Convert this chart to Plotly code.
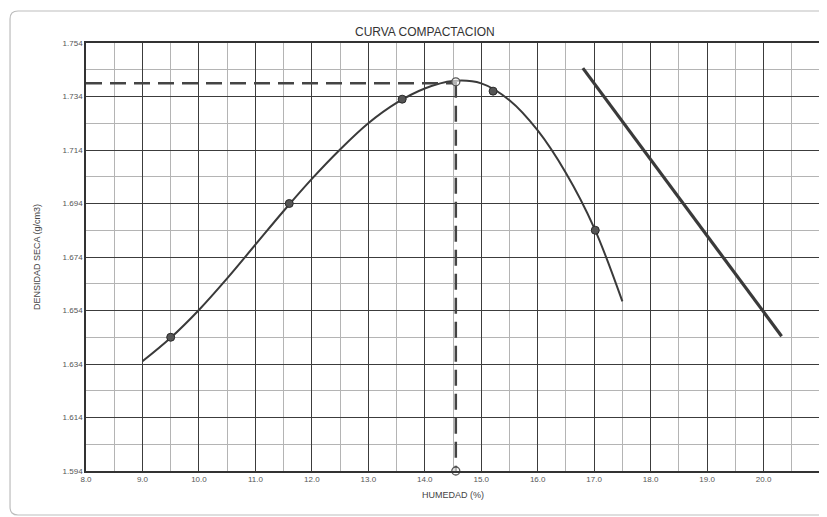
import plotly.graph_objects as go

# Tick labels
x_ticks = [8.0, 9.0, 10.0, 11.0, 12.0, 13.0, 14.0, 15.0, 16.0, 17.0, 18.0, 19.0, 20.0, 21.0]
x_ticktext = ["8.0", "9.0", "10.0", "11.0", "12.0", "13.0", "14.0", "15.0", "16.0", "17.0", "18.0", "19.0", "20.0", "21.0"]
y_ticks = [1.594, 1.614, 1.634, 1.654, 1.674, 1.694, 1.714, 1.734, 1.754]
y_ticktext = ["1.594", "1.614", "1.634", "1.654", "1.674", "1.694", "1.714", "1.734", "1.754"]

# Measured points
humedad = [9.50, 11.60, 13.60, 15.21, 17.02]
densidad = [1.644, 1.694, 1.733, 1.736, 1.684]

# Fitted compaction curve
curve_x = [9.0, 9.5, 10.0, 10.5, 11.0, 11.5, 12.0, 12.5, 13.0, 13.5, 14.0, 14.5, 15.0, 15.5, 16.0, 16.5, 17.0, 17.5]
curve_y = [1.6350, 1.6438, 1.6542, 1.6660, 1.6786, 1.6912, 1.7032, 1.7142, 1.7240, 1.7316, 1.7370, 1.7398,
           1.7389, 1.7326, 1.7213, 1.7054, 1.6849, 1.6574]

# Saturation line
sat_x = [16.80, 20.32]
sat_y = [1.7446, 1.6444]

# Optimum
opt_h = 14.55
opt_d = 1.7395
x_min, x_max = 8.0, 21.0
y_min, y_max = 1.594, 1.754

dark = "#3a3a3a"

fig = go.Figure()

fig.add_trace(go.Scatter(x=curve_x, y=curve_y, mode="lines",
                         line=dict(color=dark, width=2, shape="spline", smoothing=1.0),
                         hoverinfo="skip", showlegend=False))
fig.add_trace(go.Scatter(x=sat_x, y=sat_y, mode="lines",
                         line=dict(color=dark, width=3.2),
                         hoverinfo="skip", showlegend=False))
# dashed optimum lines
fig.add_trace(go.Scatter(x=[x_min, opt_h], y=[opt_d - 0.0005, opt_d - 0.0005], mode="lines",
                         line=dict(color="#444444", width=2.5, dash="16px,8px"),
                         hoverinfo="skip", showlegend=False))
fig.add_trace(go.Scatter(x=[opt_h, opt_h], y=[opt_d, y_min], mode="lines",
                         line=dict(color="#444444", width=2.5, dash="16px,8px"),
                         hoverinfo="skip", showlegend=False))
fig.add_trace(go.Scatter(x=[opt_h, opt_h], y=[opt_d, y_min], mode="markers",
                         marker=dict(size=8, color="rgba(255,255,255,0.6)",
                                     line=dict(color="#555555", width=1.3)),
                         hoverinfo="skip", showlegend=False, cliponaxis=False))
fig.add_trace(go.Scatter(x=humedad, y=densidad, mode="markers",
                         marker=dict(size=8, color="#555555", line=dict(color="#2a2a2a", width=1)),
                         showlegend=False))

axis_common = dict(showline=True, mirror=True, linecolor="#333333", linewidth=1.5, automargin=False,
                   showgrid=True, gridcolor="#3c3c3c", gridwidth=1.2, zeroline=False,
                   ticks="", tickfont=dict(family="Liberation Sans, Arial", size=8, color="#555555"))

fig.update_xaxes(range=[x_min, x_max], tickmode="array", tickvals=x_ticks, ticktext=x_ticktext,
                 minor=dict(tickmode="linear", tick0=8.0, dtick=0.5, showgrid=True,
                            gridcolor="#b4b4b4", gridwidth=1),
                 title=dict(text="HUMEDAD (%)", font=dict(family="Liberation Sans, Arial", size=9, color="#444444"),
                            standoff=8),
                 **axis_common)
fig.update_yaxes(range=[y_min, y_max], tickmode="array", tickvals=y_ticks, ticktext=y_ticktext,
                 minor=dict(tickmode="linear", tick0=1.594, dtick=0.01, showgrid=True,
                            gridcolor="#b4b4b4", gridwidth=1),
                 title=dict(text="DENSIDAD SECA (g/cm3)", font=dict(family="Liberation Sans, Arial", size=9, color="#444444"),
                            standoff=20),
                 **axis_common)

# Page has an 8px body margin, so the figure is sized to fit the 827x517 window
fig.update_layout(
    width=819, height=509,
    margin=dict(l=78, r=7, t=35, b=46),
    paper_bgcolor="white", plot_bgcolor="white",
    title=dict(text="CURVA COMPACTACION", x=0.509, xanchor="center", y=0.953, yanchor="middle",
               font=dict(family="Liberation Sans, Arial", size=12, color="#333333")),
    shapes=[dict(type="path", xref="paper", yref="paper", layer="below",
                 path=("M -0.0926,1.0748 L 1.0082,1.0748 L 1.0082,-0.1028 L -0.0926,-0.1028 "
                       "Q -0.1035,-0.1028 -0.1035,-0.0841 L -0.1035,1.0561 Q -0.1035,1.0748 -0.0926,1.0748 Z"),
                 line=dict(color="#bdbdbd", width=1.2))],
)

fig.write_html("out.html")
